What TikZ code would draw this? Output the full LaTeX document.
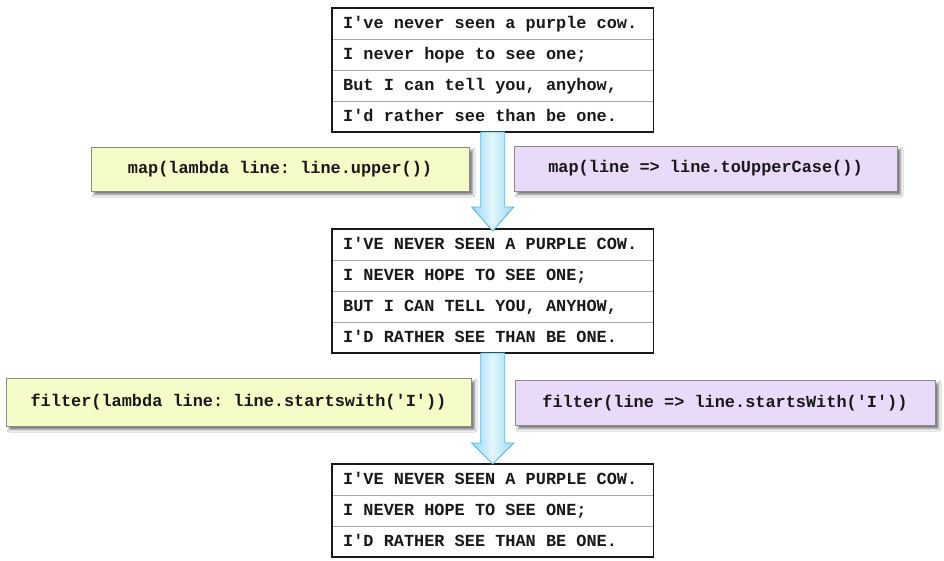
\documentclass[tikz,border=0pt]{standalone}
\usepackage{fontspec}
\setmonofont{Liberation Mono}
\usetikzlibrary{calc,shadows.blur}

\definecolor{lineyellow}{HTML}{F6FCC8}
\definecolor{linepurple}{HTML}{EADAF9}
\definecolor{boxedge}{HTML}{8A8A8A}
\definecolor{arrowedge}{HTML}{5AB6DE}
\definecolor{arrowdark}{HTML}{9BD8F1}
\definecolor{arrowlight}{HTML}{E2F6FD}

\tikzset{
  code/.style={font=\ttfamily\bfseries\fontsize{16.9}{20}\selectfont, text=black!90},
  poemrow/.style={code, anchor=north west, inner xsep=11pt, inner ysep=0pt,
    minimum height=30.6pt, text height=11pt, text depth=0.5pt,
    execute at begin node={\hbox to 299pt\bgroup},
    execute at end node={\hfil\egroup}},
  rowsep/.style={draw=black!35, line width=0.8pt},
  tableframe/.style={draw=black!90, line width=1.8pt},
  opbox/.style={code, draw=boxedge, line width=0.9pt, inner sep=0pt, align=center,
    blur shadow={shadow xshift=3.5pt, shadow yshift=-3.5pt, shadow blur radius=2.5pt, shadow opacity=55}},
  pyop/.style={opbox, fill=lineyellow},
  jsop/.style={opbox, fill=linepurple},
  blockarrow/.style={draw=arrowedge, line width=0.9pt, line join=miter,
    left color=arrowdark, right color=arrowdark, middle color=arrowlight},
}

\begin{document}
\begin{tikzpicture}[x=1pt,y=-1pt]
  \fill[white] (0,0) rectangle (944,560);
  \useasboundingbox (0,0) rectangle (944,560);

  % original poem
  \node[poemrow] (t1) at (332,8) {I've never seen a purple cow.};
  \node[poemrow] (t2) at (t1.south west) {I never hope to see one;};
  \node[poemrow] (t3) at (t2.south west) {But I can tell you, anyhow,};
  \node[poemrow] (t4) at (t3.south west) {I'd rather see than be one.};
  \foreach \r in {t2,t3,t4} \draw[rowsep] (\r.north west) -- (\r.north east);
  \draw[tableframe] (t1.north west) rectangle (t4.south east);

  % after map
  \node[poemrow] (m1) at (332,229) {I'VE NEVER SEEN A PURPLE COW.};
  \node[poemrow] (m2) at (m1.south west) {I NEVER HOPE TO SEE ONE;};
  \node[poemrow] (m3) at (m2.south west) {BUT I CAN TELL YOU, ANYHOW,};
  \node[poemrow] (m4) at (m3.south west) {I'D RATHER SEE THAN BE ONE.};
  \foreach \r in {m2,m3,m4} \draw[rowsep] (\r.north west) -- (\r.north east);
  \draw[tableframe] (m1.north west) rectangle (m4.south east);

  % after filter
  \node[poemrow] (b1) at (332,464) {I'VE NEVER SEEN A PURPLE COW.};
  \node[poemrow] (b2) at (b1.south west) {I NEVER HOPE TO SEE ONE;};
  \node[poemrow] (b3) at (b2.south west) {I'D RATHER SEE THAN BE ONE.};
  \foreach \r in {b2,b3} \draw[rowsep] (\r.north west) -- (\r.north east);
  \draw[tableframe] (b1.north west) rectangle (b3.south east);

  % operations
  \node[pyop, minimum width=378pt, minimum height=44pt] (pymap) at (280,169)
    {map(lambda line: line.upper())};
  \node[jsop, minimum width=383pt, minimum height=45pt] (jsmap) at (705.5,168.5)
    {map(line => line.toUpperCase())};
  \node[pyop, minimum width=465pt, minimum height=48pt] (pyfilter) at (238.5,402)
    {filter(lambda line: line.startswith('I'))};
  \node[jsop, minimum width=420pt, minimum height=45pt] (jsfilter) at (725,402.5)
    {filter(line => line.startsWith('I'))};

  % flow arrows between the tables
  \draw[blockarrow]
    ($(t4.south)+(-12,0)$) -- ($(m1.north)+(-12,-22)$) -- ($(m1.north)+(-21,-22)$)
    -- ($(m1.north)+(0,2)$) -- ($(m1.north)+(21,-22)$) -- ($(m1.north)+(12,-22)$)
    -- ($(t4.south)+(12,0)$) -- cycle;
  \draw[blockarrow]
    ($(m4.south)+(-12,0)$) -- ($(b1.north)+(-12,-21)$) -- ($(b1.north)+(-21,-21)$)
    -- ($(b1.north)+(0,0)$) -- ($(b1.north)+(21,-21)$) -- ($(b1.north)+(12,-21)$)
    -- ($(m4.south)+(12,0)$) -- cycle;
\end{tikzpicture}
\end{document}
